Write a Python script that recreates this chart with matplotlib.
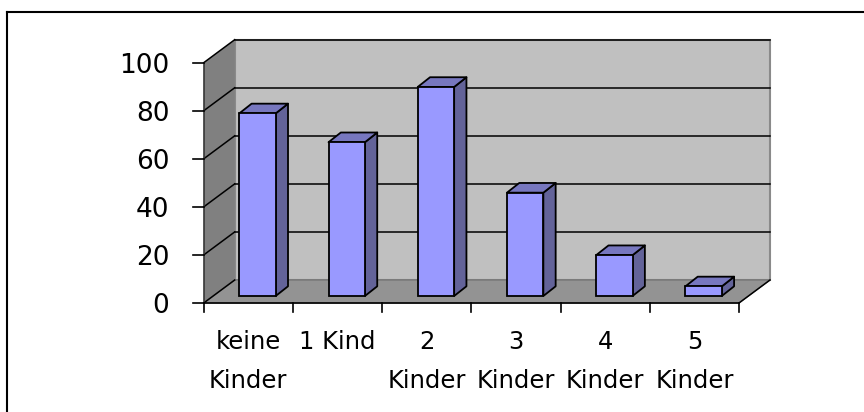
import matplotlib.pyplot as plt
from matplotlib.lines import Line2D
from matplotlib.patches import Polygon, Rectangle
from matplotlib.transforms import Affine2D

W, H = 864, 412

categories = ['keine\nKinder', '1 Kind', '2\nKinder', '3\nKinder', '4\nKinder', '5\nKinder']
values = [76, 64, 87, 43, 17, 4]
y_ticks = [0, 20, 40, 60, 80, 100]

# pixel geometry of the fake 3d box
left, right = 203.7, 739.0
y0_px, y100_px = 303.0, 62.7
depth_x, depth_y = 31.0, 23.0
bar_off_x, bar_off_y = 9.2, 7.0
bar_dx, bar_dy = 12.3, 9.7
bar_w = 0.408

WALL = '#c0c0c0'
SIDE = '#808080'
FLOOR = '#939393'
BAR = '#9999ff'
BAR_SIDE = '#636399'
BAR_TOP = '#7777bf'

fig = plt.figure(figsize=(W / 100, H / 100), dpi=100)
ax = fig.add_axes([left / W, 1 - y0_px / H, (right - left) / W, (y0_px - y100_px) / H])
ax.set_xlim(0, len(categories))
ax.set_ylim(0, 100)
ax.axis('off')

back = ax.transData + Affine2D().translate(depth_x, depth_y)
bar_front = ax.transData + Affine2D().translate(bar_off_x, bar_off_y)
n = len(categories)


def shift(px, py):
    # data units for a shift given in pixels
    return px * n / (right - left), py * 100 / (y0_px - y100_px)


dx, dy = shift(depth_x, depth_y)
ax.add_patch(Rectangle((0, 0), n, 100, transform=back, fc=WALL, ec='#8a8a8a', lw=1.5, zorder=1, clip_on=False))
ax.add_patch(Polygon([(0, 0), (dx, dy), (dx, 100 + dy), (0, 100)], fc=SIDE, ec='none', zorder=1, clip_on=False))
ax.add_patch(Polygon([(0, 0), (n, 0), (n + dx, dy), (dx, dy)], fc=FLOOR, ec='#707070', lw=0.8, zorder=1, clip_on=False))

# gridlines on the walls
for t in y_ticks[1:]:
    ax.plot([0, n], [t, t], transform=back, color='black', lw=1.1, zorder=2, clip_on=False)
    ax.plot([0, dx], [t, t + dy], color='black', lw=1.1, zorder=2, clip_on=False)
ax.plot([0, dx], [0, dy], color='black', lw=1.1, zorder=2, clip_on=False)
ax.plot([n, n + dx], [0, dy], color='black', lw=1.1, zorder=2, clip_on=False)

# axis lines and ticks
ax.plot([0, 0], [0, 100], color='#303030', lw=1.1, zorder=2, clip_on=False)
ax.plot([0, n], [0, 0], color='black', lw=1.2, zorder=2, clip_on=False)
tick_x = shift(11, 0)[0]
tick_y = shift(0, 9)[1]
for t in y_ticks:
    ax.plot([-tick_x, 0], [t, t], color='black', lw=1.2, zorder=2, clip_on=False)
    ax.text(-shift(34.2, 0)[0], t, str(t), ha='right', va='center_baseline', fontsize=19)
for i in range(n + 1):
    ax.plot([i, i], [0, -tick_y], color='black', lw=1.2, zorder=2, clip_on=False)

# bars
bdx, bdy = shift(bar_dx, bar_dy)
for i, v in enumerate(values):
    x0 = i + 0.5 - bar_w / 2
    x1 = x0 + bar_w
    ax.add_patch(Polygon([(x1, 0), (x1 + bdx, bdy), (x1 + bdx, v + bdy), (x1, v)], transform=bar_front,
                         fc=BAR_SIDE, ec='black', lw=1.3, zorder=3, clip_on=False, joinstyle='round'))
    ax.add_patch(Polygon([(x0, v), (x1, v), (x1 + bdx, v + bdy), (x0 + bdx, v + bdy)], transform=bar_front,
                         fc=BAR_TOP, ec='black', lw=1.3, zorder=3, clip_on=False, joinstyle='round'))
ax.bar([i + 0.5 for i in range(n)], values, bar_w, transform=bar_front, color=BAR, edgecolor='black',
       linewidth=1.3, zorder=4, clip_on=False)

# category labels, two rows
row1 = shift(0, 349.3 - 303)[1]
row2 = shift(0, 387.7 - 303)[1]
for i, c in enumerate(categories):
    parts = c.split('\n')
    ax.text(i + 0.5, -row1, parts[0], ha='center', va='baseline', fontsize=17.5)
    if len(parts) == 2:
        ax.text(i + 0.5, -row2, parts[1], ha='center', va='baseline', fontsize=17.5)

# outer frame, only left and top are visible
fig.add_artist(Line2D([7 / W, 7 / W], [0, 1 - 12 / H], color='black', lw=1.5, solid_capstyle='projecting'))
fig.add_artist(Line2D([7 / W, 1], [1 - 12 / H, 1 - 12 / H], color='black', lw=1.5, solid_capstyle='projecting'))

fig.savefig('out.png', dpi=100)
